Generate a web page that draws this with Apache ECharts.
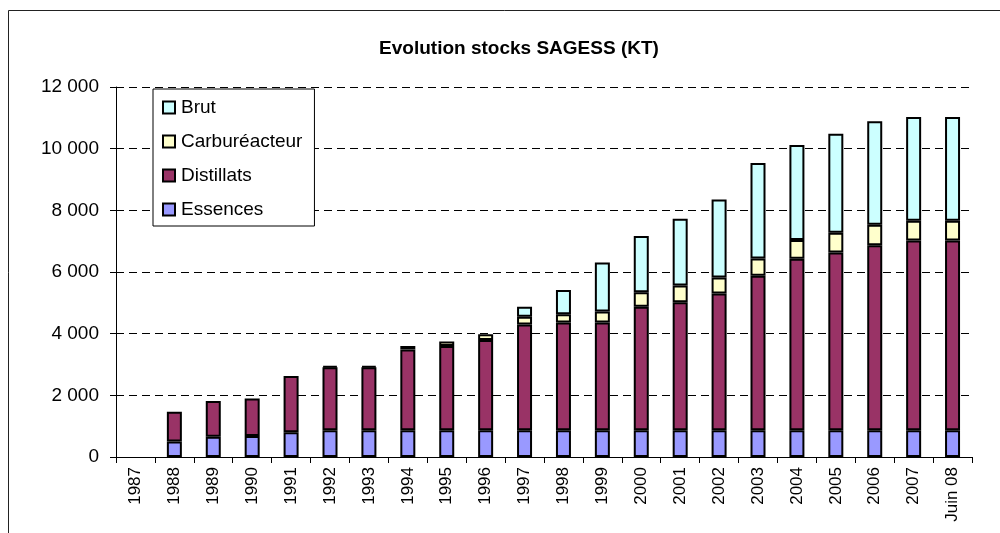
<!DOCTYPE html>
<html>
<head>
<meta charset="utf-8">
<script src="https://cdn.jsdelivr.net/npm/echarts@6/dist/echarts.min.js"></script>
<style>
  html, body { margin: 0; padding: 0; background: #fff; }
  #chart { width: 1000px; height: 533px; }
</style>
</head>
<body>
<div id="chart"></div>
<script>
// years on the x axis
var years = ['1987', '1988', '1989', '1990', '1991', '1992', '1993', '1994', '1995', '1996', '1997',
  '1998', '1999', '2000', '2001', '2002', '2003', '2004', '2005', '2006', '2007', 'Juin 08'];

// stocks in KT (null = no segment)
var essences = [null, 500, 660, 680, 800, 870, 870, 870, 870, 870, 870,
  870, 870, 870, 870, 870, 870, 870, 870, 870, 870, 870];
var distillats = [null, 970, 1160, 1220, 1830, 2040, 2040, 2620, 2730, 2925, 3430,
  3490, 3490, 4000, 4145, 4435, 5005, 5560, 5765, 5995, 6155, 6155];
var carbureacteur = [null, null, null, null, null, 40, 40, 110, 150, 185, 250,
  270, 355, 470, 550, 520, 565, 605, 640, 670, 635, 635];
var brut = [null, null, null, null, null, null, null, null, null, null, 325,
  790, 1590, 1830, 2160, 2530, 3095, 3085, 3205, 3355, 3370, 3370];

var yTicks = [0, 2000, 4000, 6000, 8000, 10000, 12000];

var font = 'Arial, "Liberation Sans", sans-serif';

function barSeries(name, data, color) {
  return {
    name: name,
    type: 'bar',
    stack: 'total',
    data: data,
    barWidth: 15,
    itemStyle: { color: color, borderColor: '#000', borderWidth: 2 },
    emphasis: { disabled: true }
  };
}

var chart = echarts.init(document.getElementById('chart'));
chart.setOption({
  backgroundColor: '#fff',
  animation: false,
  textStyle: { fontFamily: font },
  title: {
    text: 'Evolution stocks SAGESS (KT)',
    left: 514,
    top: 34,
    textAlign: 'center',
    textStyle: { fontFamily: font, fontSize: 19, fontWeight: 'bold', color: '#000' }
  },
  legend: {
    orient: 'vertical',
    left: 153,
    top: 89,
    padding: [9, 12, 7, 9],
    itemGap: 15,
    itemWidth: 12,
    itemHeight: 12,
    icon: 'rect',
    backgroundColor: '#fff',
    borderColor: '#000',
    borderWidth: 1,
    itemStyle: { borderColor: '#000', borderWidth: 2 },
    textStyle: { fontFamily: font, fontSize: 19, color: '#000', lineHeight: 18, padding: [0, 0, 0, 1] },
    data: ['Brut', 'Carburéacteur', 'Distillats', 'Essences']
  },
  grid: { left: 116, right: 28, top: 87, bottom: 76 },
  xAxis: {
    type: 'category',
    data: years,
    axisLine: { lineStyle: { color: '#000', width: 1 } },
    axisTick: { show: true, length: 6, lineStyle: { color: '#000' } },
    axisLabel: { rotate: 90, margin: 10, fontSize: 17, color: '#000', fontFamily: font, interval: 0 }
  },
  yAxis: {
    type: 'value',
    min: yTicks[0],
    max: yTicks[yTicks.length - 1],
    interval: 2000,
    axisLine: { show: true, lineStyle: { color: '#000', width: 1 } },
    axisTick: { show: true, length: 6, lineStyle: { color: '#000' } },
    axisLabel: {
      margin: 17,
      fontSize: 19,
      color: '#000',
      fontFamily: font,
      formatter: function (v) { return String(v).replace(/\B(?=(\d{3})+(?!\d))/g, ' '); }
    },
    splitLine: { show: true, lineStyle: { color: '#000', type: [8, 5], width: 1 } }
  },
  graphic: [{
    type: 'rect',
    shape: { x: 8.5, y: 10.5, width: 1200, height: 700 },
    style: { fill: 'none', stroke: '#222', lineWidth: 1 },
    silent: true
  }],
  series: [
    barSeries('Essences', essences, '#9999FF'),
    barSeries('Distillats', distillats, '#993366'),
    barSeries('Carburéacteur', carbureacteur, '#FFFFCC'),
    barSeries('Brut', brut, '#CCFFFF')
  ]
});
</script>
</body>
</html>
